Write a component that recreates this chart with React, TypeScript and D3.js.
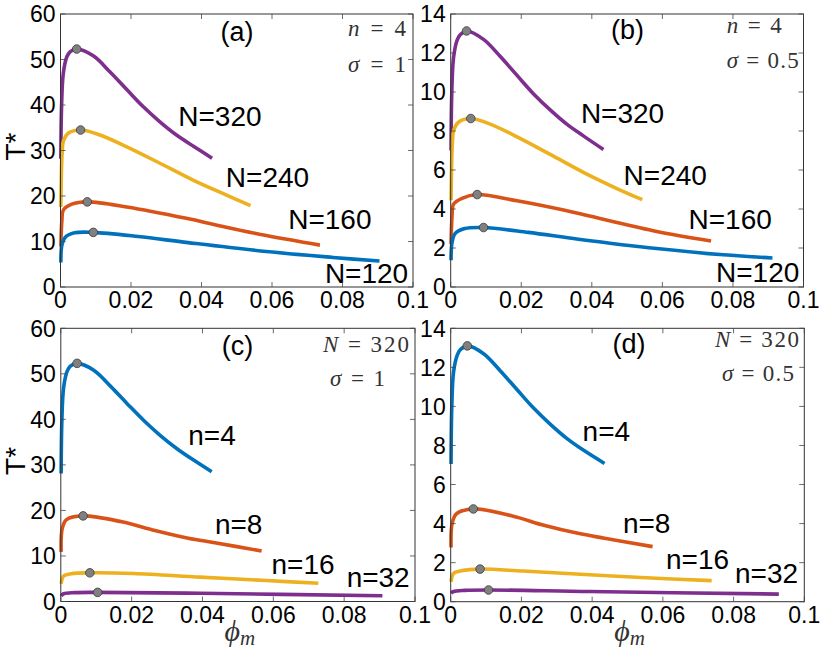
import React from "react";
import * as d3 from "d3";

// ---------- ticks ----------
const xTicks = [0, 0.02, 0.04, 0.06, 0.08, 0.1];
const xTickLabels = ["0", "0.02", "0.04", "0.06", "0.08", "0.1"];
const yTicksBig = [0, 10, 20, 30, 40, 50, 60];
const yTicksSmall = [0, 2, 4, 6, 8, 10, 12, 14];

const BLUE = "#0072BD";
const ORANGE = "#D95319";
const YELLOW = "#EDB120";
const PURPLE = "#7E2F8E";

// ---------- panel (a): n=4, sigma=1 ----------
const aPhi320 = [0.0001, 0.0003, 0.0008, 0.0018, 0.0027, 0.0046, 0.0093, 0.014, 0.0188, 0.0235, 0.0282, 0.0329, 0.0376, 0.043];
const aT320 = [28.2, 39.6, 47.0, 50.6, 51.7, 52.3, 50.8, 47.3, 43.4, 39.6, 36.3, 33.4, 31.0, 28.3];
const aPhi240 = [0.0001, 0.0003, 0.0005, 0.0008, 0.0022, 0.0057, 0.0112, 0.0188, 0.0282, 0.0376, 0.0471, 0.0539];
const aT240 = [17.6, 26.5, 29.8, 32.0, 33.8, 34.5, 33.4, 30.8, 27.2, 23.5, 20.2, 17.9];
const aPhi160 = [0.0001, 0.0004, 0.0008, 0.0032, 0.0076, 0.0188, 0.0357, 0.0438, 0.0584, 0.0736];
const aT160 = [8.9, 14.7, 16.9, 18.2, 18.7, 17.6, 15.1, 13.7, 11.3, 9.2];
const aPhi120 = [0.0001, 0.0004, 0.0013, 0.004, 0.0093, 0.022, 0.0362, 0.0584, 0.0773, 0.0905];
const aT120 = [5.4, 9.2, 10.9, 11.9, 12.0, 11.1, 9.75, 7.8, 6.5, 5.7];
const aPeakPhi = [0.0046, 0.0057, 0.0076, 0.0093];
const aPeakT = [52.3, 34.5, 18.7, 12.0];

// ---------- panel (b): n=4, sigma=0.5 ----------
const bPhi320 = [0.0001, 0.0003, 0.0008, 0.0018, 0.0027, 0.0045, 0.0093, 0.014, 0.0188, 0.0235, 0.0282, 0.0329, 0.0376, 0.0433];
const bT320 = [7.0, 9.9, 11.75, 12.65, 12.93, 13.13, 12.7, 11.83, 10.85, 9.9, 9.08, 8.35, 7.75, 7.05];
const bPhi240 = [0.0001, 0.0003, 0.0005, 0.0008, 0.0022, 0.0057, 0.0112, 0.0188, 0.0282, 0.0376, 0.0471, 0.0543];
const bT240 = [4.45, 6.6, 7.45, 8.0, 8.45, 8.64, 8.35, 7.7, 6.8, 5.88, 5.05, 4.48];
const bPhi160 = [0.0001, 0.0004, 0.0008, 0.0032, 0.0075, 0.0188, 0.0357, 0.0438, 0.0584, 0.0738];
const bT160 = [2.2, 3.7, 4.25, 4.55, 4.74, 4.42, 3.8, 3.45, 2.85, 2.36];
const bPhi120 = [0.0001, 0.0004, 0.0013, 0.004, 0.0093, 0.022, 0.0362, 0.0584, 0.0773, 0.0912];
const bT120 = [1.37, 2.3, 2.75, 3.0, 3.05, 2.8, 2.45, 1.97, 1.65, 1.49];
const bPeakPhi = [0.0045, 0.0057, 0.0075, 0.0093];
const bPeakT = [13.13, 8.64, 4.74, 3.05];

// ---------- panel (c): N=320, sigma=1 ----------
const cPhi4 = [0.0001, 0.0003, 0.0008, 0.0018, 0.0027, 0.0046, 0.0093, 0.014, 0.0188, 0.0235, 0.0282, 0.0329, 0.0376, 0.0426];
const cT4 = [28.1, 39.6, 47.0, 50.6, 51.7, 52.3, 50.8, 47.3, 43.4, 39.7, 36.4, 33.5, 31.0, 28.5];
const cPhi8 = [0.0001, 0.0004, 0.0016, 0.0063, 0.0172, 0.0266, 0.036, 0.0435, 0.0567];
const cT8 = [10.9, 16.0, 18.0, 18.8, 17.5, 15.6, 13.9, 12.9, 11.1];
const cPhi16 = [0.0001, 0.0008, 0.003, 0.0082, 0.0205, 0.0393, 0.0581, 0.0727];
const cT16 = [3.9, 5.6, 6.1, 6.3, 6.15, 5.35, 4.6, 4.0];
const cPhi32 = [0.0001, 0.0008, 0.004, 0.0104, 0.0393, 0.0908];
const cT32 = [1.2, 1.7, 1.95, 2.0, 1.8, 1.25];
const cPeakPhi = [0.0046, 0.0063, 0.0082, 0.0104];
const cPeakT = [52.3, 18.8, 6.3, 2.0];

// ---------- panel (d): N=320, sigma=0.5 ----------
const dPhi4 = [0.0001, 0.0003, 0.0008, 0.0018, 0.0027, 0.0047, 0.0093, 0.014, 0.0188, 0.0235, 0.0282, 0.0329, 0.0376, 0.0435];
const dT4 = [7.05, 9.9, 11.75, 12.6, 12.9, 13.1, 12.7, 11.83, 10.85, 9.9, 9.08, 8.35, 7.75, 7.08];
const dPhi8 = [0.0001, 0.0004, 0.0016, 0.0064, 0.0172, 0.0266, 0.036, 0.0435, 0.0571];
const dT8 = [2.78, 4.0, 4.5, 4.75, 4.4, 3.9, 3.5, 3.25, 2.82];
const dPhi16 = [0.0001, 0.0008, 0.003, 0.0083, 0.0205, 0.0393, 0.0581, 0.0738];
const dT16 = [1.02, 1.45, 1.58, 1.67, 1.57, 1.38, 1.2, 1.08];
const dPhi32 = [0.0001, 0.0008, 0.004, 0.0107, 0.0393, 0.0928];
const dT32 = [0.43, 0.52, 0.58, 0.6, 0.52, 0.39];
const dPeakPhi = [0.0047, 0.0064, 0.0083, 0.0107];
const dPeakT = [13.1, 4.75, 1.67, 0.6];

type Series = { phi: number[]; T: number[]; color: string; label: string; lx: number; ly: number };
type PanelCfg = {
  left: number; top: number; right: number; bottom: number;
  yTicks: number[]; yMax: number;
  series: Series[]; peakPhi: number[]; peakT: number[];
  tag: string; tagX: number; tagY: number;
  m1: [string, string]; m1x: number; m1y: number; m1w: number;
  m2: [string, string]; m2x: number; m2y: number; m2w: number;
};

const SANS = "'Liberation Sans', Arial, Helvetica, sans-serif";
const SERIF = "'Liberation Serif', 'Times New Roman', serif";

function Panel({ cfg, showYLabel, showXLabel }: { cfg: PanelCfg; showYLabel: boolean; showXLabel: boolean }) {
  const x = d3.scaleLinear().domain([0, 0.1]).range([cfg.left, cfg.right]);
  const y = d3.scaleLinear().domain([0, cfg.yMax]).range([cfg.bottom, cfg.top]);
  const line = d3
    .line<[number, number]>()
    .x((d) => x(d[0]))
    .y((d) => y(d[1]))
    .curve(d3.curveCatmullRom.alpha(0.5));
  const tl = 5;
  return (
    <g>
      {cfg.series.map((s, i) => (
        <path
          key={i}
          d={line(s.phi.map((p, j) => [p, s.T[j]] as [number, number])) || ""}
          fill="none"
          stroke={s.color}
          strokeWidth={3.6}
          strokeLinejoin="round"
        />
      ))}
      {cfg.peakPhi.map((p, i) => (
        <circle key={i} cx={x(p)} cy={y(cfg.peakT[i])} r={4.3} fill="#808080" stroke="#3a3a3a" strokeWidth={0.8} />
      ))}
      {cfg.series.map((s, i) => (
        <text key={i} x={x(s.lx)} y={y(s.ly)} fontFamily={SANS} fontSize={28} fill="#000">
          {s.label}
        </text>
      ))}
      {/* frame */}
      <rect
        x={cfg.left}
        y={cfg.top}
        width={cfg.right - cfg.left}
        height={cfg.bottom - cfg.top}
        fill="none"
        stroke="#333"
        strokeWidth={1}
      />
      {xTicks.map((t, i) => (
        <g key={i}>
          <line x1={x(t)} x2={x(t)} y1={cfg.bottom} y2={cfg.bottom - tl} stroke="#444" strokeWidth={0.8} />
          <line x1={x(t)} x2={x(t)} y1={cfg.top} y2={cfg.top + tl} stroke="#444" strokeWidth={0.8} />
          <text x={x(t)} y={cfg.bottom + 21} textAnchor="middle" fontFamily={SANS} fontSize={23} fill="#000">
            {xTickLabels[i]}
          </text>
        </g>
      ))}
      {cfg.yTicks.map((t, i) => (
        <g key={i}>
          <line x1={cfg.left} x2={cfg.left + tl} y1={y(t)} y2={y(t)} stroke="#444" strokeWidth={0.8} />
          <line x1={cfg.right} x2={cfg.right - tl} y1={y(t)} y2={y(t)} stroke="#444" strokeWidth={0.8} />
          <text x={cfg.left - 5} y={y(t)} dy="0.36em" textAnchor="end" fontFamily={SANS} fontSize={23} fill="#000">
            {t}
          </text>
        </g>
      ))}
      <text x={cfg.tagX} y={cfg.tagY} textAnchor="middle" fontFamily={SANS} fontSize={27} fill="#000">
        {cfg.tag}
      </text>
      <text x={cfg.m1x} y={cfg.m1y} fontFamily={SERIF} fontSize={23} fill="#333" textLength={cfg.m1w} lengthAdjust="spacing">
        <tspan fontStyle="italic">{cfg.m1[0]}</tspan>
        <tspan>{cfg.m1[1]}</tspan>
      </text>
      <text x={cfg.m2x} y={cfg.m2y} fontFamily={SERIF} fontSize={23} fill="#333" textLength={cfg.m2w} lengthAdjust="spacing">
        <tspan fontStyle="italic">{cfg.m2[0]}</tspan>
        <tspan>{cfg.m2[1]}</tspan>
      </text>
      {showYLabel && (
        <text
          transform={`translate(25, ${(cfg.top + cfg.bottom) / 2 - 4}) rotate(-90)`}
          textAnchor="middle"
          fontFamily={SANS}
          fontSize={28}
          fill="#000"
        >
          T*
        </text>
      )}
      {showXLabel && (
        <text x={(cfg.left + cfg.right) / 2 + 2} y={641} textAnchor="middle" fontFamily={SERIF} fill="#333">
          <tspan fontStyle="italic" fontSize={30}>ϕ</tspan>
          <tspan fontStyle="italic" fontSize={21} dy={4}>m</tspan>
        </text>
      )}
    </g>
  );
}

const panelA: PanelCfg = {
  left: 60.5, top: 14, right: 413, bottom: 287,
  yTicks: yTicksBig, yMax: 60,
  series: [
    { phi: aPhi320, T: aT320, color: PURPLE, label: "N=320", lx: 0.0334, ly: 35.4 },
    { phi: aPhi240, T: aT240, color: YELLOW, label: "N=240", lx: 0.0469, ly: 22.0 },
    { phi: aPhi160, T: aT160, color: ORANGE, label: "N=160", lx: 0.0646, ly: 12.7 },
    { phi: aPhi120, T: aT120, color: BLUE, label: "N=120", lx: 0.075, ly: 0.8 },
  ],
  peakPhi: aPeakPhi, peakT: aPeakT,
  tag: "(a)", tagX: 237, tagY: 41,
  m1: ["n", " = 4"], m1x: 348, m1y: 36, m1w: 58,
  m2: ["σ", " = 1"], m2x: 348, m2y: 71.5, m2w: 58,
};

const panelB: PanelCfg = {
  left: 450.7, top: 14, right: 803.5, bottom: 287,
  yTicks: yTicksSmall, yMax: 14,
  series: [
    { phi: bPhi320, T: bT320, color: PURPLE, label: "N=320", lx: 0.0369, ly: 8.42 },
    { phi: bPhi240, T: bT240, color: YELLOW, label: "N=240", lx: 0.049, ly: 5.22 },
    { phi: bPhi160, T: bT160, color: ORANGE, label: "N=160", lx: 0.0674, ly: 3.0 },
    { phi: bPhi120, T: bT120, color: BLUE, label: "N=120", lx: 0.0752, ly: 0.26 },
  ],
  peakPhi: bPeakPhi, peakT: bPeakT,
  tag: "(b)", tagX: 627.5, tagY: 39,
  m1: ["n", " = 4"], m1x: 726.7, m1y: 33.3, m1w: 55,
  m2: ["σ", " = 0.5"], m2x: 726.7, m2y: 67.7, m2w: 72,
};

const panelC: PanelCfg = {
  left: 60.8, top: 328.3, right: 415, bottom: 601.5,
  yTicks: yTicksBig, yMax: 60,
  series: [
    { phi: cPhi4, T: cT4, color: BLUE, label: "n=4", lx: 0.036, ly: 34.4 },
    { phi: cPhi8, T: cT8, color: ORANGE, label: "n=8", lx: 0.0435, ly: 14.9 },
    { phi: cPhi16, T: cT16, color: YELLOW, label: "n=16", lx: 0.0595, ly: 6.1 },
    { phi: cPhi32, T: cT32, color: PURPLE, label: "n=32", lx: 0.0807, ly: 3.15 },
  ],
  peakPhi: cPeakPhi, peakT: cPeakT,
  tag: "(c)", tagX: 237.5, tagY: 355,
  m1: ["N", " = 320"], m1x: 323, m1y: 351.7, m1w: 86,
  m2: ["σ", " = 1"], m2x: 330, m2y: 386, m2w: 55,
};

const panelD: PanelCfg = {
  left: 450.7, top: 328.3, right: 804.3, bottom: 601.7,
  yTicks: yTicksSmall, yMax: 14,
  series: [
    { phi: dPhi4, T: dT4, color: BLUE, label: "n=4", lx: 0.0373, ly: 8.24 },
    { phi: dPhi8, T: dT8, color: ORANGE, label: "n=8", lx: 0.0487, ly: 3.5 },
    { phi: dPhi16, T: dT16, color: YELLOW, label: "n=16", lx: 0.0609, ly: 1.66 },
    { phi: dPhi32, T: dT32, color: PURPLE, label: "n=32", lx: 0.0804, ly: 0.94 },
  ],
  peakPhi: dPeakPhi, peakT: dPeakT,
  tag: "(d)", tagX: 629, tagY: 353,
  m1: ["N", " = 320"], m1x: 715, m1y: 346.7, m1w: 84,
  m2: ["σ", " = 0.5"], m2x: 722, m2y: 381, m2w: 72,
};

export default function App() {
  return (
    <svg
      width={830}
      height={652}
      viewBox="0 0 830 652"
      style={{ position: "absolute", left: 0, top: 0, background: "#fff" }}
    >
      <rect x={0} y={0} width={830} height={652} fill="#fff" />
      <Panel cfg={panelA} showYLabel={true} showXLabel={false} />
      <Panel cfg={panelB} showYLabel={false} showXLabel={false} />
      <Panel cfg={panelC} showYLabel={true} showXLabel={true} />
      <Panel cfg={panelD} showYLabel={false} showXLabel={true} />
    </svg>
  );
}
